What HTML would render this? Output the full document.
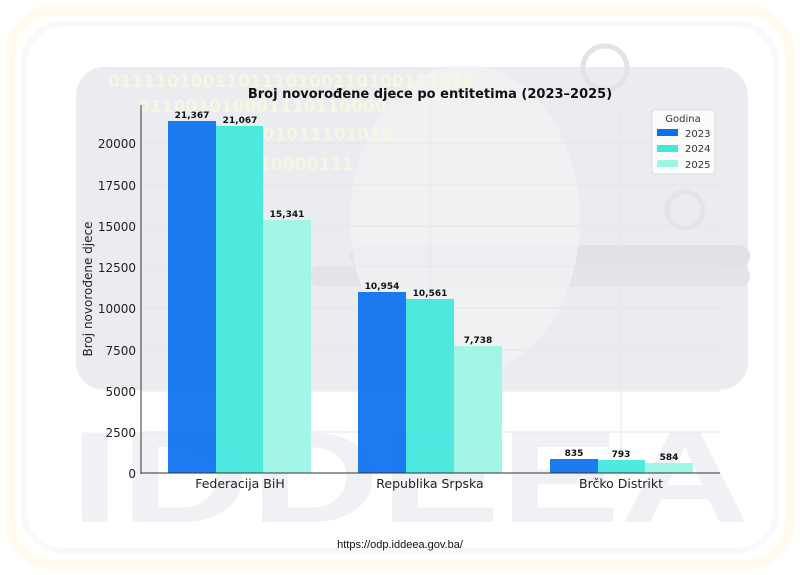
<!DOCTYPE html>
<html><head><meta charset="utf-8"><style>
body{margin:0;background:#fff;}
svg{display:block;font-family:"DejaVu Sans","Liberation Sans",sans-serif;}
</style></head><body>
<svg width="800" height="575" viewBox="0 0 800 575" xmlns="http://www.w3.org/2000/svg">
<rect width="800" height="575" fill="#fff"/>
<rect x="10" y="10" width="780" height="555" rx="45" fill="none" stroke="#fffcee" stroke-width="10"/>
<rect x="24" y="24" width="752" height="527" rx="40" fill="none" stroke="#f8f9fb" stroke-width="6"/>
<!-- watermark panel -->
<rect x="76" y="67" width="672" height="323" rx="28" fill="#eaecef"/>
<rect x="310" y="265" width="440" height="22" rx="11" fill="#e2e4e8"/>
<rect x="350" y="245" width="400" height="22" rx="11" fill="#e0e2e6"/>
<circle cx="605" cy="68" r="22" fill="none" stroke="#e2e4e8" stroke-width="5"/>
<circle cx="685" cy="210" r="18" fill="none" stroke="#e2e4e8" stroke-width="5"/>
<ellipse cx="465" cy="220" rx="115" ry="155" fill="#f2f3f5" opacity="0.7"/>
<g fill="#f7f6e2" font-size="17" font-weight="bold">
<text x="108" y="87">0111101001101110100110100111010</text>
<text x="138" y="112">011001010001110110000</text>
<text x="168" y="140">0111010001011101010</text>
<text x="200" y="170">0111010000111</text>
</g>
<g fill="#f0f1f4" font-size="130" font-weight="bold" font-family="Liberation Sans,sans-serif">
<text x="70" y="522" textLength="680" lengthAdjust="spacingAndGlyphs">IDDEEA</text>
</g>
<!-- grid -->
<g stroke="#e4e6ea" stroke-width="1">
<line x1="430" y1="105" x2="430" y2="473"/><line x1="621" y1="105" x2="621" y2="473"/>
<line x1="141" y1="143" x2="720" y2="143"/><line x1="141" y1="185" x2="720" y2="185"/>
<line x1="141" y1="226" x2="720" y2="226"/><line x1="141" y1="267" x2="720" y2="267"/>
<line x1="141" y1="308" x2="720" y2="308"/><line x1="141" y1="350" x2="720" y2="350"/>
<line x1="141" y1="391" x2="720" y2="391"/><line x1="141" y1="432" x2="720" y2="432"/>
</g>
<!-- bars -->
<g>
<rect x="168" y="121" width="48" height="352" fill="#0a6fef" opacity="0.92"/>
<rect x="216" y="126" width="47" height="347" fill="#3fe7dc" opacity="0.92"/>
<rect x="263" y="220" width="48" height="253" fill="#9bf6e6" opacity="0.92"/>
<rect x="358" y="292" width="48" height="181" fill="#0a6fef" opacity="0.92"/>
<rect x="406" y="299" width="48" height="174" fill="#3fe7dc" opacity="0.92"/>
<rect x="454" y="346" width="48" height="127" fill="#9bf6e6" opacity="0.92"/>
<rect x="550" y="459" width="48" height="14" fill="#0a6fef" opacity="0.92"/>
<rect x="598" y="460" width="47" height="13" fill="#3fe7dc" opacity="0.92"/>
<rect x="645" y="463" width="48" height="10" fill="#9bf6e6" opacity="0.92"/>
</g>
<g font-size="9" font-weight="bold" fill="#111" text-anchor="middle">
<text x="192" y="118">21,367</text><text x="240" y="123">21,067</text><text x="287" y="217">15,341</text>
<text x="382" y="289">10,954</text><text x="430" y="296">10,561</text><text x="478" y="343">7,738</text>
<text x="574" y="456">835</text><text x="621" y="457">793</text><text x="669" y="460">584</text>
</g>
<!-- axes -->
<line x1="141" y1="105" x2="141" y2="474" stroke="#333" stroke-width="1"/>
<line x1="141" y1="473" x2="720" y2="473" stroke="#333" stroke-width="1"/>
<g font-size="12" fill="#222" text-anchor="end">
<text x="136" y="148">20000</text><text x="136" y="190">17500</text><text x="136" y="231">15000</text>
<text x="136" y="272">12500</text><text x="136" y="313">10000</text><text x="136" y="355">7500</text>
<text x="136" y="396">5000</text><text x="136" y="437">2500</text><text x="136" y="478">0</text>
</g>
<g font-size="12.5" fill="#222" text-anchor="middle">
<text x="240" y="488">Federacija BiH</text><text x="430" y="488">Republika Srpska</text><text x="621" y="488">Brčko Distrikt</text>
</g>
<text transform="translate(92,289) rotate(-90)" font-size="12" fill="#222" text-anchor="middle">Broj novorođene djece</text>
<text x="430" y="98" font-size="13" font-weight="bold" fill="#111" text-anchor="middle">Broj novorođene djece po entitetima (2023–2025)</text>
<!-- legend -->
<rect x="652" y="110" width="63" height="64" rx="3" fill="#fff" fill-opacity="0.8" stroke="#ddd"/>
<text x="683" y="122" font-size="10" fill="#333" text-anchor="middle">Godina</text>
<rect x="657" y="129" width="21" height="7" fill="#0a6fef"/><text x="685" y="137" font-size="10" fill="#333">2023</text>
<rect x="657" y="145" width="21" height="7" fill="#3fe7dc"/><text x="685" y="152" font-size="10" fill="#333">2024</text>
<rect x="657" y="160" width="21" height="7" fill="#9bf6e6"/><text x="685" y="168" font-size="10" fill="#333">2025</text>
<text x="400" y="548" font-size="11" fill="#111" text-anchor="middle" font-family="Liberation Sans,sans-serif">https://odp.iddeea.gov.ba/</text>
</svg>
</body></html>
